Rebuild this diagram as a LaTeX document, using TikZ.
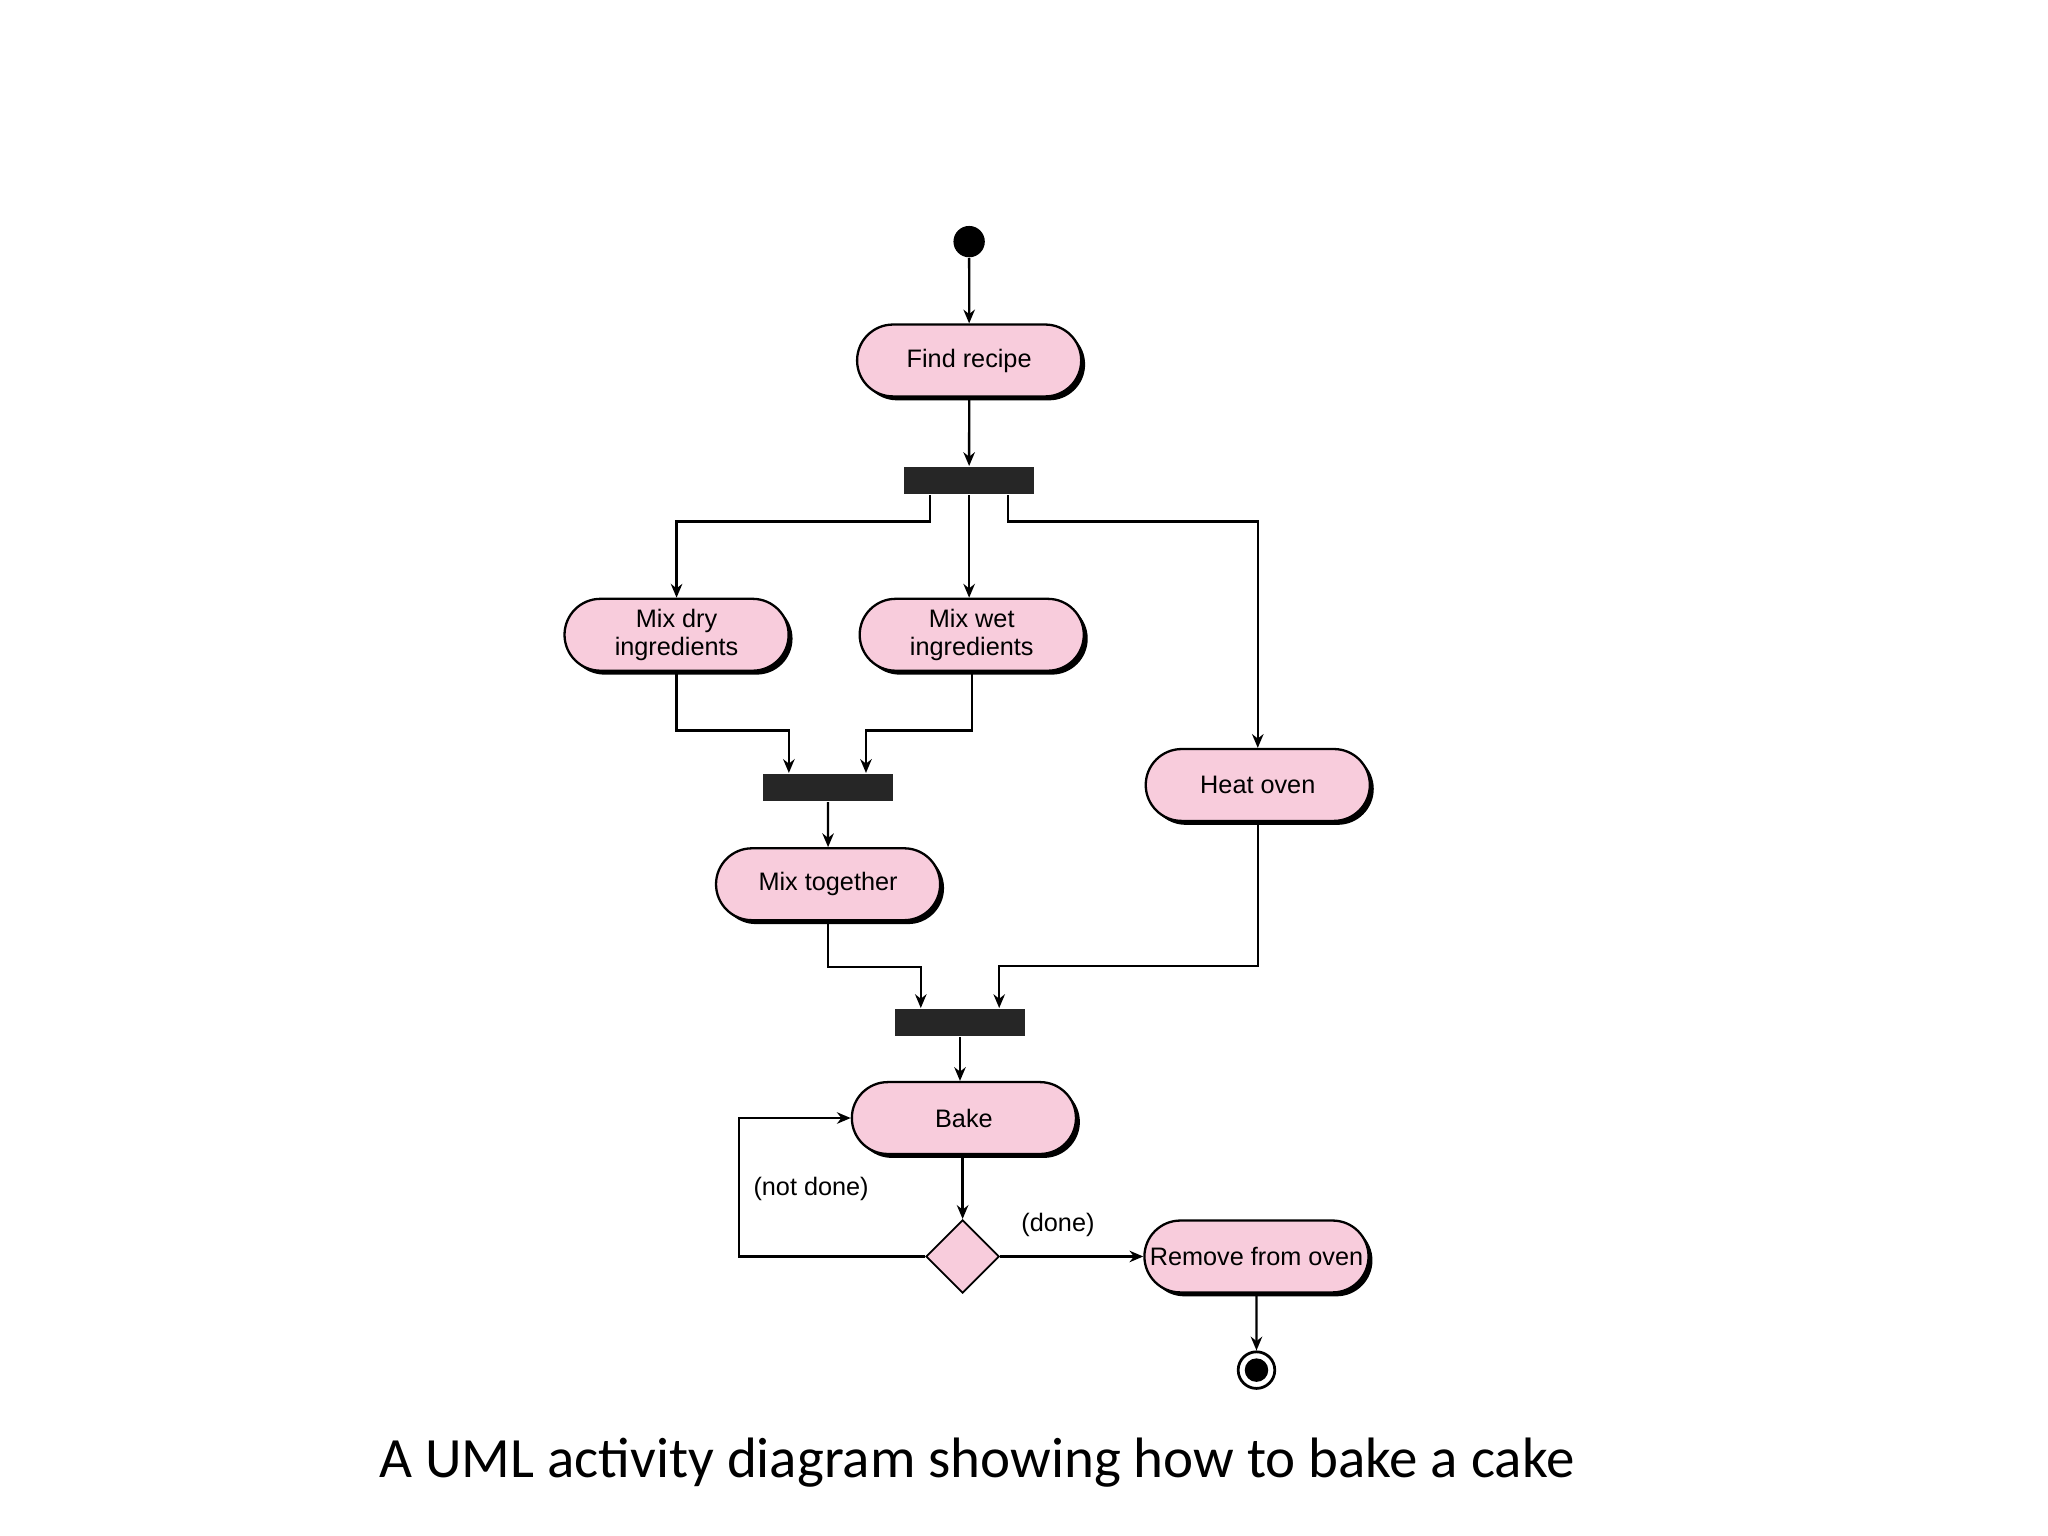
\documentclass[tikz,border=0pt]{standalone}
\usepackage{fontspec}
\setmainfont{Liberation Sans}
\newfontfamily\capfont{Carlito}
\usetikzlibrary{shapes.misc,shapes.geometric,shadows,arrows.meta}
\definecolor{pinkf}{HTML}{F8CCDC}
\begin{document}
\begin{tikzpicture}[x=0.01cm,y=-0.01cm,
  act/.style={rounded rectangle,draw=black,line width=0.5pt,fill=pinkf,minimum width=1.75cm,minimum height=0.55cm,inner sep=0.5pt,align=center,font=\fontsize{5.5}{6}\selectfont,drop shadow={shadow xshift=0.03cm,shadow yshift=-0.03cm,fill=black,opacity=1}},
  bar/.style={rectangle,fill=black!85,minimum width=0.99cm,minimum height=0.21cm,inner sep=0},
  ar/.style={draw,line width=0.5pt,-{Stealth[length=3pt,width=2.5pt]}},
  lbl/.style={font=\fontsize{5.5}{6}\selectfont}]
\useasboundingbox[fill=white] (0,0) rectangle (1568,1176);
\node[circle,fill=black,minimum size=0.24cm,inner sep=0] (start) at (742,185) {};
\node[act] (find) at (742,276) {Find recipe};
\node[bar] (b1) at (742,368) {};
\node[act] (dry) at (518,486) {Mix dry\\ingredients};
\node[act] (wet) at (744,486) {Mix wet\\ingredients};
\node[act] (heat) at (963,601) {Heat oven};
\node[bar] (b2) at (634,603) {};
\node[act] (tog) at (634,677) {Mix together};
\node[bar] (b3) at (735,783) {};
\node[act] (bake) at (738,856) {Bake};
\node[diamond,draw,fill=pinkf,minimum size=0.56cm,inner sep=0] (dec) at (737,962) {};
\node[act] (rem) at (962,962) {Remove from oven};
\node[circle,draw,line width=0.6pt,minimum size=0.28cm,inner sep=0] (end) at (962,1049) {};
\node[circle,fill=black,minimum size=0.18cm,inner sep=0] (endi) at (962,1049) {};
\draw[ar] (start) -- (find);
\draw[ar] (find) -- (b1);
\draw[ar] ([xshift=-0.3cm]b1.south) -- ++(0,20) -| (dry.north);
\draw[ar] (b1.south) -- (b1.south |- wet.north);
\draw[ar] ([xshift=0.3cm]b1.south) -- ++(0,20) -| (heat.north);
\draw[ar] (dry.south) -- ++(0,45) -| ([xshift=-0.3cm]b2.north);
\draw[ar] (wet.south) -- ++(0,45) -| ([xshift=0.29cm]b2.north);
\draw[ar] (b2) -- (tog);
\draw[ar] (tog.south) -- ++(0,35) -| ([xshift=-0.3cm]b3.north);
\draw[ar] (heat.south) -- ++(0,110) -| ([xshift=0.3cm]b3.north);
\draw[ar] (b3) -- (bake.north -| b3);
\draw[ar] (bake.south -| dec) -- (dec.north);
\draw[ar] (dec.west) -| (566,856) -- (bake.west);
\draw[ar] (dec.east) -- (rem.west);
\draw[ar] (rem) -- (end);
\node[lbl] at (621,910) {(not done)};
\node[lbl] at (810,938) {(done)};
\node[font=\capfont\fontsize{12.4}{13}\selectfont] at (748,1120) {A UML activity diagram showing how to bake a cake};
\end{tikzpicture}
\end{document}
